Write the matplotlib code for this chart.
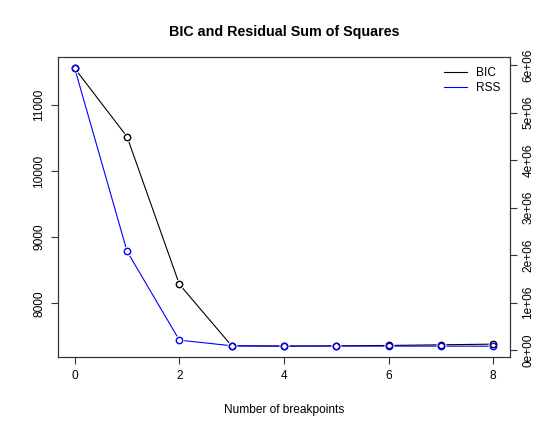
import numpy as np
import matplotlib
matplotlib.use("Agg")
import matplotlib.pyplot as plt
from matplotlib.ticker import FuncFormatter

plt.rcParams["font.family"] = ["Liberation Sans", "DejaVu Sans"]

# values
breakpoints = [0, 1, 2, 3, 4, 5, 6, 7, 8]
bic = [11554, 10520, 8287, 7356, 7351, 7356, 7362, 7372, 7382]
rss = [5.93e6, 2.08e6, 0.21e6, 0.092e6, 0.087e6, 0.086e6, 0.085e6, 0.084e6, 0.083e6]
left_ticks = [8000, 9000, 10000, 11000]
right_ticks = [0, 1e6, 2e6, 3e6, 4e6, 5e6, 6e6]
x_ticks = [0, 2, 4, 6, 8]


def padded(v):
    lo, hi = min(v), max(v)
    r = hi - lo
    return lo - 0.04 * r, hi + 0.04 * r


fig = plt.figure(figsize=(5.4, 4.3), dpi=100)
ax = fig.add_axes([58 / 540, 1 - 357.3 / 430, (510 - 58) / 540, 300 / 430])
ax2 = ax.twinx()

fs = 8.6

ax.set_xlim(-0.32, 8.32)
ax.set_ylim(*padded(bic))
ax2.set_ylim(*padded(rss))

# both series go on ax2 so the point halos and circles stack properly;
# BIC keeps the left axis scale through ax.transData
series = [(bic, "black", ax.transData), (rss, "blue", ax2.transData)]
for y, col, tr in series:
    ax2.plot(breakpoints, y, color=col, lw=0.8, zorder=2, transform=tr)
for y, col, tr in series:
    # white halo so the line stops short of each point, like R's type="b"
    ax2.plot(breakpoints, y, ls="none", marker="o", ms=7.0, mfc="white", mec="none",
             zorder=3, transform=tr)
for y, col, tr in series:
    ax2.plot(breakpoints, y, ls="none", marker="o", ms=4.6, mfc="none", mec=col, mew=1.0,
             zorder=4, transform=tr)

ax.set_xticks(x_ticks)
ax.set_yticks(left_ticks)
ax2.set_yticks(right_ticks)
ax2.yaxis.set_major_formatter(FuncFormatter(lambda v, p: "%.0e" % v))

for a in (ax, ax2):
    a.tick_params(direction="out", length=5, width=0.8, labelsize=fs, pad=4, color="#333333")
    for s in a.spines.values():
        s.set_linewidth(0.8)
        s.set_color("#333333")

for lab in ax.get_yticklabels() + ax2.get_yticklabels():
    lab.set_rotation(90)
    lab.set_va("center")

ax.set_xlabel("Number of breakpoints", fontsize=fs, labelpad=16)
ax.set_title("BIC and Residual Sum of Squares", fontsize=10.3, fontweight="bold", pad=15)

h1 = plt.Line2D([], [], color="black", lw=0.8)
h2 = plt.Line2D([], [], color="blue", lw=0.8)
ax2.legend([h1, h2], ["BIC", "RSS"], loc="upper right", frameon=False, fontsize=fs,
           handlelength=1.9, handletextpad=0.8, labelspacing=0.3,
           bbox_to_anchor=(1.0, 1.0), borderaxespad=0.4)

fig.savefig("out.png", dpi=100)
